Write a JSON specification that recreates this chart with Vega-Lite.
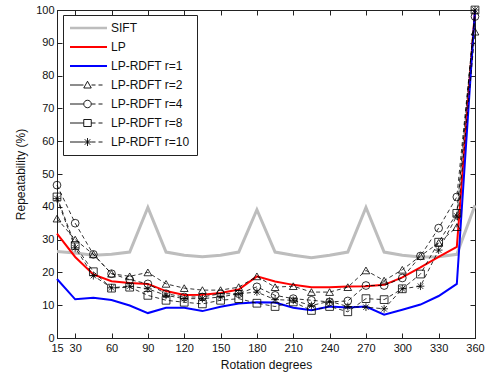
{
  "$schema": "https://vega.github.io/schema/vega-lite/v6.json",
  "autosize": {"type": "none"},
  "padding": {"left": 57, "top": 10, "right": 20, "bottom": 42},
  "width": 418,
  "height": 328,
  "background": "white",
  "config": {
    "font": "Liberation Sans",
    "view": {"stroke": "#222", "strokeWidth": 1},
    "axis": {"grid": false, "domainColor": "#222", "tickColor": "#222", "labelColor": "#111", "titleColor": "#111", "labelFont": "Liberation Sans", "titleFont": "Liberation Sans", "labelFontSize": 11, "titleFontSize": 12, "titleFontWeight": "normal", "labelOverlap": false, "labelFlush": false}
  },
  "data": {
    "values": [
      {"deg": 15, "SIFT": 26.4, "LP": 31.8, "LP-RDFT r=1": 18.0, "LP-RDFT r=2": 36.4, "LP-RDFT r=4": 46.6, "LP-RDFT r=8": 43.0, "LP-RDFT r=10": 42.5},
      {"deg": 30, "SIFT": 25.9, "LP": 24.7, "LP-RDFT r=1": 11.8, "LP-RDFT r=2": 30.0, "LP-RDFT r=4": 35.0, "LP-RDFT r=8": 28.2, "LP-RDFT r=10": 27.5},
      {"deg": 45, "SIFT": 25.2, "LP": 19.4, "LP-RDFT r=1": 12.3, "LP-RDFT r=2": 25.5, "LP-RDFT r=4": 25.5, "LP-RDFT r=8": 20.2, "LP-RDFT r=10": 19.0},
      {"deg": 60, "SIFT": 25.5, "LP": 17.3, "LP-RDFT r=1": 11.6, "LP-RDFT r=2": 19.6, "LP-RDFT r=4": 19.6, "LP-RDFT r=8": 15.2, "LP-RDFT r=10": 15.3},
      {"deg": 75, "SIFT": 26.2, "LP": 16.8, "LP-RDFT r=1": 9.9, "LP-RDFT r=2": 18.8, "LP-RDFT r=4": 17.8, "LP-RDFT r=8": 15.5, "LP-RDFT r=10": 15.8},
      {"deg": 90, "SIFT": 39.8, "LP": 16.5, "LP-RDFT r=1": 7.6, "LP-RDFT r=2": 20.0, "LP-RDFT r=4": 16.5, "LP-RDFT r=8": 13.0, "LP-RDFT r=10": 15.0},
      {"deg": 105, "SIFT": 26.2, "LP": 14.3, "LP-RDFT r=1": 9.2, "LP-RDFT r=2": 16.5, "LP-RDFT r=4": 13.5, "LP-RDFT r=8": 11.5, "LP-RDFT r=10": 13.0},
      {"deg": 120, "SIFT": 25.2, "LP": 13.1, "LP-RDFT r=1": 9.2, "LP-RDFT r=2": 15.2, "LP-RDFT r=4": 12.5, "LP-RDFT r=8": 10.9, "LP-RDFT r=10": 12.0},
      {"deg": 135, "SIFT": 24.8, "LP": 13.2, "LP-RDFT r=1": 8.2, "LP-RDFT r=2": 14.6, "LP-RDFT r=4": 12.5, "LP-RDFT r=8": 10.4, "LP-RDFT r=10": 12.0},
      {"deg": 150, "SIFT": 25.2, "LP": 13.7, "LP-RDFT r=1": 9.5, "LP-RDFT r=2": 14.6, "LP-RDFT r=4": 13.5, "LP-RDFT r=8": 11.5, "LP-RDFT r=10": 12.5},
      {"deg": 165, "SIFT": 26.2, "LP": 14.8, "LP-RDFT r=1": 10.5, "LP-RDFT r=2": 15.5, "LP-RDFT r=4": 13.5, "LP-RDFT r=8": 12.0, "LP-RDFT r=10": 13.5},
      {"deg": 180, "SIFT": 39.1, "LP": 18.8, "LP-RDFT r=1": 10.9, "LP-RDFT r=2": 18.8, "LP-RDFT r=4": 15.6, "LP-RDFT r=8": 10.6, "LP-RDFT r=10": 14.0},
      {"deg": 195, "SIFT": 26.2, "LP": 17.2, "LP-RDFT r=1": 10.8, "LP-RDFT r=2": 15.5, "LP-RDFT r=4": 13.0, "LP-RDFT r=8": 9.6, "LP-RDFT r=10": 11.7},
      {"deg": 210, "SIFT": 25.2, "LP": 16.2, "LP-RDFT r=1": 9.2, "LP-RDFT r=2": 15.8, "LP-RDFT r=4": 12.0, "LP-RDFT r=8": 11.0, "LP-RDFT r=10": 11.5},
      {"deg": 225, "SIFT": 24.5, "LP": 15.5, "LP-RDFT r=1": 8.5, "LP-RDFT r=2": 14.0, "LP-RDFT r=4": 11.5, "LP-RDFT r=8": 8.4, "LP-RDFT r=10": 9.9},
      {"deg": 240, "SIFT": 25.2, "LP": 15.5, "LP-RDFT r=1": 9.6, "LP-RDFT r=2": 14.0, "LP-RDFT r=4": 11.0, "LP-RDFT r=8": 9.6, "LP-RDFT r=10": 11.2},
      {"deg": 255, "SIFT": 26.2, "LP": 15.7, "LP-RDFT r=1": 9.3, "LP-RDFT r=2": 15.5, "LP-RDFT r=4": 11.3, "LP-RDFT r=8": 8.0, "LP-RDFT r=10": 9.6},
      {"deg": 270, "SIFT": 39.8, "LP": 15.8, "LP-RDFT r=1": 9.6, "LP-RDFT r=2": 20.6, "LP-RDFT r=4": 16.0, "LP-RDFT r=8": 12.0, "LP-RDFT r=10": 9.4},
      {"deg": 285, "SIFT": 26.2, "LP": 16.2, "LP-RDFT r=1": 7.1, "LP-RDFT r=2": 17.5, "LP-RDFT r=4": 16.0, "LP-RDFT r=8": 11.7, "LP-RDFT r=10": 8.9},
      {"deg": 300, "SIFT": 25.2, "LP": 18.5, "LP-RDFT r=1": 8.6, "LP-RDFT r=2": 20.8, "LP-RDFT r=4": 18.3, "LP-RDFT r=8": 15.0, "LP-RDFT r=10": 15.0},
      {"deg": 315, "SIFT": 24.7, "LP": 21.5, "LP-RDFT r=1": 10.2, "LP-RDFT r=2": 25.0, "LP-RDFT r=4": 25.0, "LP-RDFT r=8": 19.5, "LP-RDFT r=10": 15.8},
      {"deg": 330, "SIFT": 24.8, "LP": 24.7, "LP-RDFT r=1": 12.8, "LP-RDFT r=2": 29.0, "LP-RDFT r=4": 33.5, "LP-RDFT r=8": 29.2, "LP-RDFT r=10": 26.8},
      {"deg": 345, "SIFT": 25.5, "LP": 27.8, "LP-RDFT r=1": 16.5, "LP-RDFT r=2": 33.8, "LP-RDFT r=4": 43.0, "LP-RDFT r=8": 38.0, "LP-RDFT r=10": 37.2},
      {"deg": 360, "SIFT": 40.5, "LP": 100, "LP-RDFT r=1": 100, "LP-RDFT r=2": 93.4, "LP-RDFT r=4": 98.0, "LP-RDFT r=8": 100, "LP-RDFT r=10": 100}
    ]
  },
  "transform": [
    {"fold": ["SIFT", "LP", "LP-RDFT r=1", "LP-RDFT r=2", "LP-RDFT r=4", "LP-RDFT r=8", "LP-RDFT r=10"], "as": ["series", "value"]}
  ],
  "layer": [
    {
      "transform": [{"filter": "datum.series === 'SIFT'"}],
      "mark": {"type": "line", "clip": false, "strokeWidth": 3},
      "encoding": {
        "x": {"field": "deg", "type": "quantitative", "scale": {"domain": [15, 360], "nice": false, "zero": false},
              "axis": {"values": [15, 30, 60, 90, 120, 150, 180, 210, 240, 270, 300, 330, 360], "title": "Rotation degrees", "tickSize": -5, "labelPadding": 9, "titlePadding": 6}},
        "y": {"field": "value", "type": "quantitative", "scale": {"domain": [0, 100], "nice": false},
              "axis": {"values": [0, 10, 20, 30, 40, 50, 60, 70, 80, 90, 100], "title": "Repeatability (%)", "tickSize": -5, "labelPadding": 8, "titlePadding": 8}},
        "color": {"field": "series", "type": "nominal",
          "scale": {"domain": ["SIFT", "LP", "LP-RDFT r=1", "LP-RDFT r=2", "LP-RDFT r=4", "LP-RDFT r=8", "LP-RDFT r=10"],
                    "range": ["#bdbdbd", "#ff0000", "#0000ff", "#000000", "#000000", "#000000", "#000000"]},
          "legend": {
            "title": null, "orient": "none", "legendX": 6, "legendY": 5,
            "strokeColor": "#222", "fillColor": "white", "padding": 7,
            "labelFont": "Liberation Sans", "labelFontSize": 12, "labelColor": "#111",
            "symbolSize": 100, "labelOffset": 29, "rowPadding": 7,
            "encode": {"symbols": {"update": {
              "fill": {"value": "transparent"},
              "strokeWidth": {"signal": "datum.value === 'SIFT' ? 2.5 : (datum.value === 'LP' || datum.value === 'LP-RDFT r=1') ? 1.8 : 0.9"},
              "shape": {"signal": "datum.value === 'LP-RDFT r=2' ? 'M-1.2,0H1.5M3.1,0H3.9M4.5,0H5.3M2.3,-0.75L3.05,0.6L1.55,0.6Z' : datum.value === 'LP-RDFT r=4' ? 'M-1.2,0H1.5M3.1,0H3.9M4.5,0H5.3M3.05,0A0.75,0.75 0 1,1 1.55,0A0.75,0.75 0 1,1 3.05,0Z' : datum.value === 'LP-RDFT r=8' ? 'M-1.2,0H1.55M3.05,0H3.9M4.5,0H5.3M1.55,-0.7H3.05V0.7H1.55Z' : datum.value === 'LP-RDFT r=10' ? 'M-1.2,0H1.5M3.1,0H3.9M4.5,0H5.3M1.5,0H3.1M2.3,-0.8V0.8M1.75,-0.55L2.85,0.55M1.75,0.55L2.85,-0.55' : 'M-1.2,0H6.2'"}
            }}}
          }}
      }
    },
    {
      "transform": [{"filter": "datum.series === 'LP' || datum.series === 'LP-RDFT r=1'"}],
      "mark": {"type": "line", "clip": false, "strokeWidth": 2},
      "encoding": {
        "x": {"field": "deg", "type": "quantitative", "axis": null},
        "y": {"field": "value", "type": "quantitative", "axis": null},
        "color": {"field": "series", "type": "nominal"}
      }
    },
    {
      "transform": [{"filter": "indexof(['LP-RDFT r=2','LP-RDFT r=4','LP-RDFT r=8','LP-RDFT r=10'], datum.series) >= 0"}],
      "mark": {"type": "line", "clip": false, "strokeWidth": 0.8, "strokeDash": [4, 3]},
      "encoding": {
        "x": {"field": "deg", "type": "quantitative", "axis": null},
        "y": {"field": "value", "type": "quantitative", "axis": null},
        "color": {"field": "series", "type": "nominal"}
      }
    },
    {
      "transform": [{"filter": "indexof(['LP-RDFT r=2','LP-RDFT r=4','LP-RDFT r=8','LP-RDFT r=10'], datum.series) >= 0"}],
      "mark": {"type": "point", "filled": false, "stroke": "black", "strokeWidth": 0.8, "size": 60, "opacity": 1, "clip": false},
      "encoding": {
        "x": {"field": "deg", "type": "quantitative", "axis": {"orient": "top", "values": [15, 30, 60, 90, 120, 150, 180, 210, 240, 270, 300, 330, 360], "labels": false, "title": null, "tickSize": -5, "domain": false}},
        "y": {"field": "value", "type": "quantitative", "axis": {"orient": "right", "values": [0, 10, 20, 30, 40, 50, 60, 70, 80, 90, 100], "labels": false, "title": null, "tickSize": -5, "domain": false}},
        "shape": {"field": "series", "type": "nominal", "legend": null,
          "scale": {"domain": ["LP-RDFT r=2", "LP-RDFT r=4", "LP-RDFT r=8", "LP-RDFT r=10"],
                    "range": ["triangle-up", "circle", "square", "M-1,0H1M0,-1V1M-0.7,-0.7L0.7,0.7M-0.7,0.7L0.7,-0.7"]}}
      }
    }
  ],
  "resolve": {"axis": {"x": "independent", "y": "independent"}, "scale": {"shape": "independent"}}
}
